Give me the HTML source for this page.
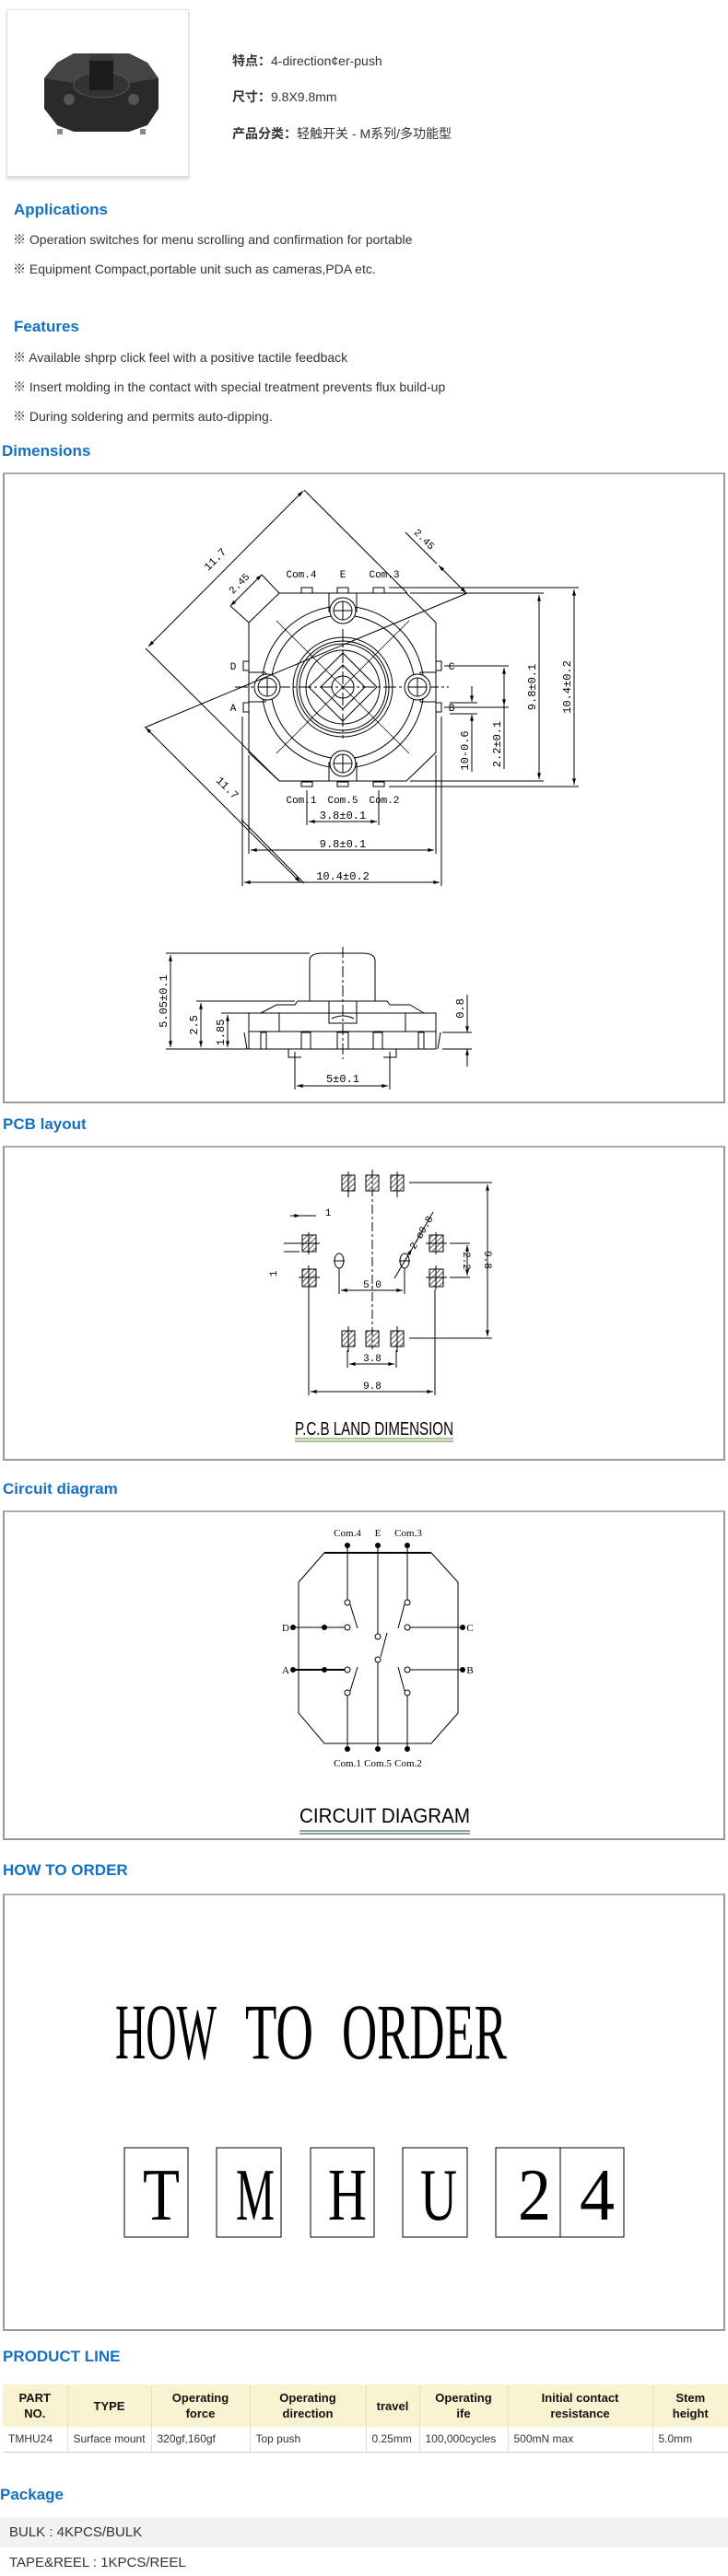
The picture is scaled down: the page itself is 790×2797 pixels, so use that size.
<!DOCTYPE html>
<html><head><meta charset="utf-8">
<style>
*{margin:0;padding:0;box-sizing:border-box}
body{width:790px;height:2797px;position:relative;background:#fff;font-family:"Liberation Sans","Noto Sans CJK SC",sans-serif;color:#222;overflow:hidden}
.a{position:absolute;white-space:nowrap}
.h{position:absolute;white-space:nowrap;color:#1570c0;font-weight:bold;font-size:17px;line-height:20px}
.t{position:absolute;white-space:nowrap;font-size:14px;line-height:18px;color:#333}
.box{position:absolute;border:2px solid #999;border-top-color:#aaa}
table{border-collapse:collapse;position:absolute;left:3px;top:2589px;width:787px;font-size:12px}
th{background:#f8f2d0;font-weight:bold;font-size:13px;line-height:17px;height:46px;text-align:center;border-left:1px solid #e6e0c0;color:#111}
td{height:27px;padding-left:6px;border-left:1px solid #ddd;border-bottom:1px solid #ccc;color:#333}
th:first-child,td:first-child{border-left:none}
</style></head><body>

<div class="a" style="left:7px;top:10px;width:198px;height:182px;border:1px solid #ddd;box-shadow:0 3px 3px #ddd"></div>
<svg class="a" style="left:0;top:0" width="210" height="200">
<polygon points="62,68 80,58 140,58 160,68 172,85 172,118 160,136 140,143 80,143 62,136 48,118 48,85" fill="#2a2a2a"/>
<polygon points="62,68 80,58 140,58 160,68 172,85 110,95 48,85" fill="#444"/>
<ellipse cx="110" cy="92" rx="30" ry="14" fill="#333" stroke="#555"/>
<rect x="97" y="60" width="26" height="38" fill="#1c1c1c"/>
<rect x="97" y="58" width="26" height="8" fill="#3a3a3a"/>
<circle cx="75" cy="108" r="6" fill="#555"/><circle cx="145" cy="108" r="6" fill="#555"/>
<rect x="62" y="140" width="6" height="6" fill="#888"/><rect x="152" y="140" width="6" height="6" fill="#888"/>
</svg>

<div class="t" style="left:252px;top:57px"><b>特点：</b>4-direction¢er-push</div>
<div class="t" style="left:252px;top:96px"><b>尺寸：</b>9.8X9.8mm</div>
<div class="t" style="left:252px;top:136px"><b>产品分类：</b>轻触开关 - M系列/多功能型</div>

<div class="h" style="left:15px;top:218px">Applications</div>
<div class="t" style="left:14px;top:251px">※ Operation switches for menu scrolling and confirmation for portable</div>
<div class="t" style="left:14px;top:283px">※ Equipment Compact,portable unit such as cameras,PDA etc.</div>
<div class="h" style="left:15px;top:345px">Features</div>
<div class="t" style="left:14px;top:379px">※ Available shprp click feel with a positive tactile feedback</div>
<div class="t" style="left:14px;top:411px">※ Insert molding in the contact with special treatment prevents flux build-up</div>
<div class="t" style="left:14px;top:443px">※ During soldering and permits auto-dipping.</div>
<div class="h" style="left:2px;top:480px">Dimensions</div>

<div class="box" style="left:3px;top:513px;width:784px;height:685px"></div>
<div class="h" style="left:3px;top:1211px">PCB layout</div>
<div class="box" style="left:3px;top:1244px;width:784px;height:342px"></div>
<div class="h" style="left:3px;top:1607px">Circuit diagram</div>
<div class="box" style="left:3px;top:1640px;width:784px;height:358px"></div>
<div class="h" style="left:3px;top:2021px">HOW TO ORDER</div>
<div class="box" style="left:3px;top:2056px;width:784px;height:475px"></div>

<svg class="a" style="left:0;top:0" width="790" height="2797" font-family="Liberation Mono, monospace">
<defs>
<marker id="m" viewBox="0 0 10 6" refX="10" refY="3" markerWidth="8" markerHeight="4" orient="auto-start-reverse" markerUnits="userSpaceOnUse"><path d="M0,0L10,3L0,6z" fill="#000"/></marker>
<pattern id="hp" width="4" height="4" patternUnits="userSpaceOnUse" patternTransform="rotate(45)"><rect width="4" height="4" fill="#fff"/><line x1="0" y1="0" x2="0" y2="4" stroke="#333" stroke-width="1.6"/></pattern>
</defs>
<g stroke="#000" stroke-width="1" fill="none">
<polygon points="303,644 441,644 473,676 473,817 441,848 303,848 270,817 270,676"/>
<rect x="357" y="644" width="30" height="20"/><rect x="357" y="828" width="30" height="20"/>
<rect x="270" y="730" width="18" height="32"/><rect x="456" y="730" width="17" height="32"/>
<circle cx="372" cy="746" r="88"/><circle cx="372" cy="746" r="78"/>
<circle cx="372" cy="746" r="54"/><circle cx="372" cy="746" r="50"/><circle cx="372" cy="746" r="47"/><circle cx="372" cy="746" r="40"/>
<circle cx="372" cy="746" r="12"/>
<polygon points="372,709 409,746 372,783 335,746"/><polygon points="372,722 396,746 372,770 348,746"/>
<g stroke-dasharray="14,3,3,3"><line x1="255" y1="746" x2="487" y2="746"/><line x1="372" y1="683" x2="372" y2="802"/></g>
<g stroke-width="0.7">
<line x1="300" y1="674" x2="444" y2="818"/><line x1="444" y1="674" x2="300" y2="818"/>
</g>
<g fill="#fff">
<circle cx="372" cy="663" r="14"/><circle cx="372" cy="829" r="14"/><circle cx="290" cy="746" r="14"/><circle cx="453" cy="746" r="14"/>
</g>
<circle cx="372" cy="663" r="10"/><circle cx="372" cy="829" r="10"/><circle cx="290" cy="746" r="10"/><circle cx="453" cy="746" r="10"/>
<path d="M362,663h20M372,653v20M362,829h20M372,819v20M280,746h20M290,736v20M443,746h20M453,736v20"/>
<rect x="327" y="638" width="12" height="6"/><rect x="366" y="638" width="12" height="6"/><rect x="405" y="638" width="12" height="6"/>
<rect x="327" y="849" width="12" height="5"/><rect x="366" y="849" width="12" height="5"/><rect x="405" y="849" width="12" height="5"/>
<rect x="264" y="718" width="6" height="10"/><rect x="264" y="763" width="6" height="10"/><rect x="473" y="718" width="6" height="10"/><rect x="473" y="763" width="6" height="10"/>
<path d="M445,644H590M445,848H590M422,638H628M422,854H628M482,723H552M482,768H552M488,763H518M488,775H518"/>
<line x1="585" y1="646" x2="585" y2="846" marker-start="url(#m)" marker-end="url(#m)"/>
<line x1="623" y1="640" x2="623" y2="852" marker-start="url(#m)" marker-end="url(#m)"/>
<line x1="547" y1="725" x2="547" y2="766" marker-start="url(#m)" marker-end="url(#m)"/>
<line x1="547" y1="766" x2="547" y2="835"/>
<line x1="512" y1="745" x2="512" y2="762" marker-end="url(#m)"/><line x1="512" y1="793" x2="512" y2="776" marker-end="url(#m)"/><line x1="512" y1="793" x2="512" y2="838"/>
<path d="M333,858V896M411,858V896M270,820V927M473,820V927M263,778V962M479,778V962"/>
<line x1="335" y1="892" x2="409" y2="892" marker-start="url(#m)" marker-end="url(#m)"/>
<line x1="272" y1="923" x2="471" y2="923" marker-start="url(#m)" marker-end="url(#m)"/>
<line x1="265" y1="958" x2="477" y2="958" marker-start="url(#m)" marker-end="url(#m)"/>
<line x1="161" y1="702" x2="329" y2="533" marker-start="url(#m)" marker-end="url(#m)"/>
<path d="M330,532L442,644M157,790L507,644M158,704L303,848M330,959L262,890"/>
<line x1="158" y1="790" x2="326" y2="958" marker-start="url(#m)" marker-end="url(#m)"/>
<line x1="250" y1="658" x2="284" y2="624" marker-start="url(#m)" marker-end="url(#m)"/>
<path d="M284,624L303,644M250,658L270,676M440,578L474,612"/>
<line x1="476" y1="614" x2="506" y2="644" marker-start="url(#m)" marker-end="url(#m)"/>
<path d="M336,1087V1043Q336,1035 350,1035H393Q407,1035 407,1043V1087"/>
<polyline points="283,1100 300,1091 320,1091 323,1087 420,1087 423,1091 445,1091 460,1100"/>
<rect x="270" y="1100" width="203" height="39"/>
<path d="M270,1120H473M303,1100V1120M440,1100V1120"/>
<rect x="357" y="1087" width="30" height="24"/><path d="M360,1106Q372,1100 384,1106"/>
<rect x="283" y="1121" width="6" height="18"/><rect x="327" y="1121" width="10" height="18"/><rect x="366" y="1121" width="12" height="18"/><rect x="405" y="1121" width="10" height="18"/><rect x="454" y="1121" width="6" height="18"/>
<path d="M313,1139V1148H327M430,1139V1148H416M265,1121L268,1139M478,1121L475,1139"/>
<line x1="372" y1="1028" x2="372" y2="1150" stroke-dasharray="12,3,3,3"/>
<path d="M180,1035H336M180,1139H270M213,1087H320M240,1100H270M480,1121H512M480,1139H512M320,1142V1183M423,1142V1183"/>
<line x1="185" y1="1037" x2="185" y2="1137" marker-start="url(#m)" marker-end="url(#m)"/>
<line x1="218" y1="1089" x2="218" y2="1137" marker-start="url(#m)" marker-end="url(#m)"/>
<line x1="247" y1="1102" x2="247" y2="1137" marker-start="url(#m)" marker-end="url(#m)"/>
<line x1="507" y1="1080" x2="507" y2="1121" marker-end="url(#m)"/><line x1="507" y1="1158" x2="507" y2="1139" marker-end="url(#m)"/>
<line x1="322" y1="1179" x2="421" y2="1179" marker-start="url(#m)" marker-end="url(#m)"/>
</g>
<g font-size="11" fill="#000" text-anchor="middle">
<text x="327" y="627">Com.4</text><text x="372" y="627">E</text><text x="417" y="627">Com.3</text>
<text x="327" y="872">Com.1</text><text x="372" y="872">Com.5</text><text x="417" y="872">Com.2</text>
<text x="253" y="727">D</text><text x="253" y="772">A</text><text x="490" y="727">C</text><text x="490" y="772">B</text>
<text x="372" y="889" font-size="12">3.8±0.1</text><text x="372" y="920" font-size="12">9.8±0.1</text><text x="372" y="955" font-size="12">10.4±0.2</text>
<text transform="translate(581,746) rotate(-90)" font-size="12">9.8±0.1</text>
<text transform="translate(619,746) rotate(-90)" font-size="12">10.4±0.2</text>
<text transform="translate(543,808) rotate(-90)" font-size="12">2.2±0.1</text>
<text transform="translate(508,815) rotate(-90)" font-size="12">10-0.6</text>
<text transform="translate(236,610) rotate(-45)" font-size="12">11.7</text>
<text transform="translate(244,858) rotate(45)" font-size="12">11.7</text>
<text transform="translate(262,636) rotate(-45)" font-size="11">2.45</text>
<text transform="translate(458,588) rotate(45)" font-size="11">2.45</text>
<text transform="translate(181,1087) rotate(-90)" font-size="12">5.05±0.1</text>
<text transform="translate(214,1113) rotate(-90)" font-size="12">2.5</text>
<text transform="translate(243,1121) rotate(-90)" font-size="12">1.85</text>
<text transform="translate(503,1095) rotate(-90)" font-size="12">0.8</text>
<text x="372" y="1175" font-size="12">5±0.1</text>
</g>

<g stroke="#000" stroke-width="1">
<g fill="url(#hp)">
<rect x="371" y="1276" width="14" height="17"/><rect x="397" y="1276" width="14" height="17"/><rect x="424" y="1276" width="14" height="17"/>
<rect x="371" y="1445" width="14" height="17"/><rect x="397" y="1445" width="14" height="17"/><rect x="424" y="1445" width="14" height="17"/>
<rect x="328" y="1341" width="15" height="18"/><rect x="328" y="1378" width="15" height="19"/>
<rect x="466" y="1341" width="15" height="18"/><rect x="466" y="1378" width="15" height="19"/>
</g>
<g fill="none">
<path d="M378,1272V1300M431,1272V1300M378,1440V1468M431,1440V1468M335,1338V1362M324,1350H347M335,1374V1400M324,1387H347M473,1338V1362M462,1350H485M473,1374V1400M462,1387H485"/>
<line x1="404" y1="1270" x2="404" y2="1465" stroke-dasharray="10,3,3,3"/>
<ellipse cx="368" cy="1369" rx="5" ry="8"/><ellipse cx="439" cy="1369" rx="5" ry="8"/>
<path d="M362,1369H374M433,1369H445M368,1377V1405M439,1377V1405M335,1400V1515M472,1400V1515M377,1466V1485M430,1466V1485M444,1284H534M444,1453H534M488,1350H510M488,1387H510M315,1320H343M308,1350H325M308,1359H325"/>
<line x1="529" y1="1286" x2="529" y2="1451" marker-start="url(#m)" marker-end="url(#m)"/>
<line x1="507" y1="1352" x2="507" y2="1385" marker-start="url(#m)" marker-end="url(#m)"/>
<line x1="370" y1="1401" x2="437" y2="1401" marker-start="url(#m)" marker-end="url(#m)"/>
<line x1="379" y1="1481" x2="428" y2="1481" marker-start="url(#m)" marker-end="url(#m)"/>
<line x1="337" y1="1511" x2="470" y2="1511" marker-start="url(#m)" marker-end="url(#m)"/>
<line x1="428" y1="1388" x2="447" y2="1356" marker-end="url(#m)"/><line x1="447" y1="1356" x2="470" y2="1316"/>
<line x1="315" y1="1320" x2="326" y2="1320" marker-end="url(#m)"/>
</g>
</g>
<g font-size="11" fill="#000" text-anchor="middle">
<text x="404" y="1398">5.0</text><text x="404" y="1478">3.8</text><text x="404" y="1508">9.8</text>
<text transform="translate(526,1368) rotate(90)">9.8</text>
<text transform="translate(503,1369) rotate(90)">2.2</text>
<text transform="translate(460,1340) rotate(-60)">2-ø0.8</text>
<text x="356" y="1320">1</text>
<text transform="translate(300,1383) rotate(-90)">1</text>
</g>
<text x="320" y="1558" font-family="Liberation Sans, sans-serif" font-size="20" textLength="172" lengthAdjust="spacingAndGlyphs" fill="#000">P.C.B LAND DIMENSION</text>
<path d="M320,1562H492M320,1565H492" stroke="#4a8a2a" stroke-width="1"/>

<g stroke="#000" fill="none" stroke-width="1">
<polyline points="468,1686 497,1718 497,1860 468,1893 352,1893 324,1860 324,1718 352,1686"/>
<line x1="352" y1="1686" x2="468" y2="1686" stroke-width="2"/>
<path d="M377,1678V1737M442,1678V1737M410,1678V1774M410,1805V1899M377,1841V1899M442,1841V1899M318,1767H374M445,1767H502M445,1813H502M380,1742L388,1768M439,1742L432,1768M413,1799L420,1773M380,1836L388,1810M439,1836L432,1810"/>
<line x1="318" y1="1813" x2="374" y2="1813" stroke-width="2"/>
<g fill="#fff"><circle cx="377" cy="1740" r="3"/><circle cx="377" cy="1767" r="3"/><circle cx="442" cy="1740" r="3"/><circle cx="442" cy="1767" r="3"/><circle cx="410" cy="1777" r="3"/><circle cx="410" cy="1802" r="3"/><circle cx="377" cy="1813" r="3"/><circle cx="377" cy="1838" r="3"/><circle cx="442" cy="1813" r="3"/><circle cx="442" cy="1838" r="3"/></g>
</g>
<g fill="#000"><circle cx="377" cy="1678" r="3"/><circle cx="410" cy="1678" r="3"/><circle cx="442" cy="1678" r="3"/><circle cx="377" cy="1899" r="3"/><circle cx="410" cy="1899" r="3"/><circle cx="442" cy="1899" r="3"/><circle cx="318" cy="1767" r="3"/><circle cx="352" cy="1767" r="3"/><circle cx="318" cy="1813" r="3"/><circle cx="352" cy="1813" r="3"/><circle cx="502" cy="1767" r="3"/><circle cx="502" cy="1813" r="3"/></g>
<g font-family="Liberation Serif, serif" font-size="11" fill="#000" text-anchor="middle">
<text x="377" y="1668">Com.4</text><text x="410" y="1668">E</text><text x="443" y="1668">Com.3</text>
<text x="377" y="1918">Com.1</text><text x="410" y="1918">Com.5</text><text x="443" y="1918">Com.2</text>
<text x="310" y="1771">D</text><text x="310" y="1817">A</text><text x="510" y="1771">C</text><text x="510" y="1817">B</text>
</g>
<text x="325" y="1979" font-family="Liberation Sans, sans-serif" font-size="22" textLength="185" lengthAdjust="spacingAndGlyphs" fill="#000">CIRCUIT DIAGRAM</text>
<path d="M325,1988H510M325,1991H510" stroke="#1a4a3a" stroke-width="1"/>

<g font-family="Liberation Serif, serif" font-size="86" fill="#000" lengthAdjust="spacingAndGlyphs">
<text x="125" y="2235" textLength="110" lengthAdjust="spacingAndGlyphs">HOW</text>
<text x="266" y="2235" textLength="74" lengthAdjust="spacingAndGlyphs">TO</text>
<text x="371" y="2235" textLength="179" lengthAdjust="spacingAndGlyphs">ORDER</text>
</g>
<g fill="none" stroke="#000" stroke-width="1">
<rect x="135" y="2332" width="69" height="97"/><rect x="235" y="2332" width="70" height="97"/><rect x="337" y="2332" width="69" height="97"/><rect x="437" y="2332" width="70" height="97"/><rect x="538" y="2332" width="139" height="97"/><line x1="608" y1="2332" x2="608" y2="2429"/>
</g>
<g font-family="Liberation Serif, serif" font-size="80" fill="#000">
<text x="155" y="2410" textLength="40" lengthAdjust="spacingAndGlyphs">T</text>
<text x="256" y="2410" textLength="42" lengthAdjust="spacingAndGlyphs">M</text>
<text x="356" y="2410" textLength="42" lengthAdjust="spacingAndGlyphs">H</text>
<text x="456" y="2410" textLength="40" lengthAdjust="spacingAndGlyphs">U</text>
<text x="562" y="2410" textLength="36" lengthAdjust="spacingAndGlyphs">2</text>
<text x="629" y="2410" textLength="38" lengthAdjust="spacingAndGlyphs">4</text>
</g>
</svg>

<div class="h" style="left:3px;top:2549px">PRODUCT LINE</div>
<table>
<tr><th style="width:70px">PART<br>NO.</th><th style="width:91px">TYPE</th><th style="width:107px">Operating<br>force</th><th style="width:126px">Operating<br>direction</th><th style="width:58px">travel</th><th style="width:96px">Operating<br>ife</th><th style="width:157px">Initial contact<br>resistance</th><th>Stem<br>height</th></tr>
<tr><td>TMHU24</td><td>Surface mount</td><td>320gf,160gf</td><td>Top push</td><td>0.25mm</td><td>100,000cycles</td><td>500mN max</td><td>5.0mm</td></tr>
</table>

<div class="h" style="left:0;top:2699px">Package</div>
<div class="a" style="left:0;top:2733px;width:790px;height:33px;background:#f2f2f2"></div>
<div class="t" style="left:10px;top:2741px;font-size:15px">BULK : 4KPCS/BULK</div>
<div class="t" style="left:10px;top:2774px;font-size:15px">TAPE&amp;REEL : 1KPCS/REEL</div>
</body></html>
